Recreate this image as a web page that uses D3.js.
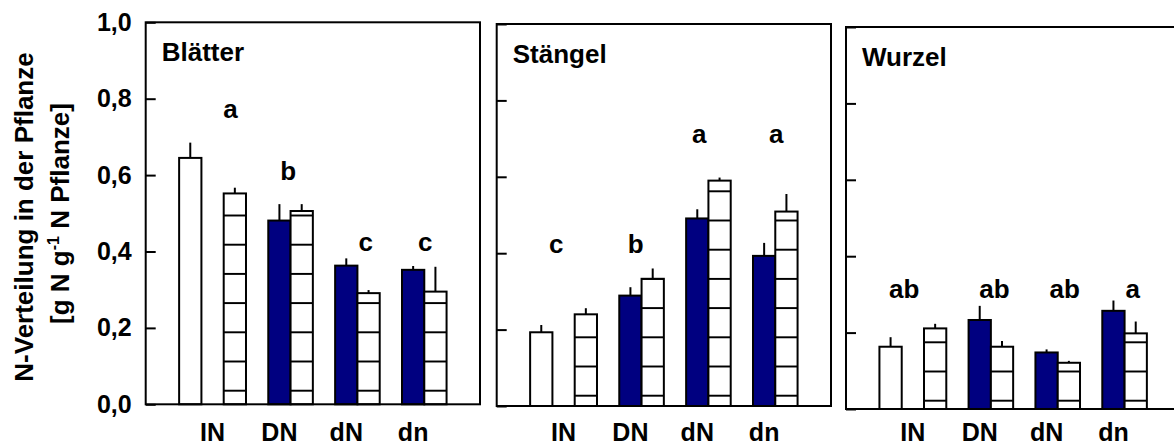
<!DOCTYPE html>
<html>
<head>
<meta charset="utf-8">
<script src="https://cdn.jsdelivr.net/npm/d3@7"></script>
<style>
  html, body { margin: 0; padding: 0; background: #fff; }
  svg { display: block; font-family: "Liberation Sans", Arial, Helvetica, sans-serif; font-weight: bold; }
</style>
</head>
<body>
<svg id="chart" width="1174" height="447"></svg>
<script>
// Treatments on the x axis and organ panels
const categories = ["IN", "DN", "dN", "dn"];
const panelTitles = ["Blätter", "Stängel", "Wurzel"];
const seriesKeys = ["open", "filled", "striped"];

// y axis ticks
const yTicks = [0, 0.2, 0.4, 0.6, 0.8, 1.0];
const yTickLabels = ["0,0", "0,2", "0,4", "0,6", "0,8", "1,0"];

// Blätter: N share (g N g-1 N plant) and standard errors
const leafOpen = [0.645, null, null, null];
const leafOpenErr = [0.040, null, null, null];
const leafFilled = [null, 0.481, 0.363, 0.352];
const leafFilledErr = [null, 0.043, 0.019, 0.010];
const leafStriped = [0.552, 0.506, 0.291, 0.295];
const leafStripedErr = [0.015, 0.018, 0.008, 0.065];
const leafLetters = ["a", "b", "c", "c"];

// Stängel
const stemOpen = [0.193, null, null, null];
const stemOpenErr = [0.019, null, null, null];
const stemFilled = [null, 0.289, 0.491, 0.393];
const stemFilledErr = [null, 0.022, 0.024, 0.034];
const stemStriped = [0.240, 0.333, 0.590, 0.509];
const stemStripedErr = [0.016, 0.027, 0.008, 0.046];
const stemLetters = ["c", "b", "a", "a"];

// Wurzel
const rootOpen = [0.163, null, null, null];
const rootOpenErr = [0.025, null, null, null];
const rootFilled = [null, 0.233, 0.148, 0.257];
const rootFilledErr = [null, 0.037, 0.008, 0.027];
const rootStriped = [0.211, 0.163, 0.121, 0.198];
const rootStripedErr = [0.012, 0.015, 0.005, 0.031];
const rootLetters = ["ab", "ab", "ab", "a"];

// Where the significance letters sit: fraction across the group, and height in axis units
const letterAnchors = [
  { fx: [0.77, 0.63, 0.79, 0.68], level: [0.749, 0.587, 0.40, 0.40] },
  { fx: [0.39, 0.58, 0.53, 0.68], level: [0.40, 0.40, 0.688, 0.688] },
  { fx: [0.37, 0.72, 0.77, 0.79], level: [0.291, 0.291, 0.291, 0.291] }
];

const panels = [
  { title: panelTitles[0], letters: leafLetters,
    series: { open: [leafOpen, leafOpenErr], filled: [leafFilled, leafFilledErr], striped: [leafStriped, leafStripedErr] } },
  { title: panelTitles[1], letters: stemLetters,
    series: { open: [stemOpen, stemOpenErr], filled: [stemFilled, stemFilledErr], striped: [stemStriped, stemStripedErr] } },
  { title: panelTitles[2], letters: rootLetters,
    series: { open: [rootOpen, rootOpenErr], filled: [rootFilled, rootFilledErr], striped: [rootStriped, rootStripedErr] } }
];

// Layout
const panelLeft = [145.7, 496.7, 846];
const panelTop = [22.3, 24, 27];
const W = 334.3, H = 382;
const labelBaseline = 441;          // common baseline of the category labels
const stripeGap = 29.2;
const stripeFromBottom = [13.6, 10.3, 8.3];
const ink = "#000";
const fills = { open: "#fff", filled: "#000080" };
const FS = 25;

const svg = d3.select("#chart");
const defs = svg.append("defs");

const y = d3.scaleLinear().domain([0, 1]).range([H, 0]);
const x0 = d3.scaleBand().domain(categories).range([0, W]).paddingInner(0).paddingOuter(0.5);
const x1 = d3.scaleBand().domain(seriesKeys).range([0, x0.bandwidth()]).padding(0);

panels.forEach((p, i) => {
  // horizontal stripe fill for the third series
  const pid = "stripes" + i;
  const pat = defs.append("pattern")
    .attr("id", pid)
    .attr("patternUnits", "userSpaceOnUse")
    .attr("width", 20).attr("height", stripeGap)
    .attr("patternTransform", `translate(0,${H - stripeFromBottom[i] - stripeGap / 2})`);
  pat.append("rect").attr("width", 20).attr("height", stripeGap).attr("fill", "#fff");
  pat.append("line").attr("x1", 0).attr("x2", 20)
    .attr("y1", stripeGap / 2).attr("y2", stripeGap / 2)
    .attr("stroke", ink).attr("stroke-width", 2);

  const g = svg.append("g").attr("transform", `translate(${panelLeft[i]},${panelTop[i]})`);

  // bars
  const rows = [];
  categories.forEach((c, j) => {
    seriesKeys.forEach(k => {
      const v = p.series[k][0][j];
      if (v != null) rows.push({ c, k, v, e: p.series[k][1][j] });
    });
  });

  g.selectAll("rect.bar").data(rows).join("rect")
    .attr("class", "bar")
    .attr("x", d => x0(d.c) + x1(d.k))
    .attr("y", d => y(d.v))
    .attr("width", x1.bandwidth())
    .attr("height", d => H - y(d.v))
    .attr("fill", d => d.k === "striped" ? `url(#${pid})` : fills[d.k])
    .attr("stroke", ink).attr("stroke-width", 2);

  // error bars (upper only)
  g.selectAll("line.err").data(rows).join("line")
    .attr("class", "err")
    .attr("x1", d => x0(d.c) + x1(d.k) + x1.bandwidth() / 2)
    .attr("x2", d => x0(d.c) + x1(d.k) + x1.bandwidth() / 2)
    .attr("y1", d => y(d.v))
    .attr("y2", d => y(d.v + d.e))
    .attr("stroke", ink).attr("stroke-width", 2);

  // y axis ticks pointing inward; labels only on the first panel
  const yAxis = d3.axisLeft(y).tickValues(yTicks).tickSizeInner(-10).tickSizeOuter(0).tickPadding(14)
    .tickFormat((d, idx) => i === 0 ? yTickLabels[idx] : "");
  const ya = g.append("g").call(yAxis);
  ya.select(".domain").remove();
  ya.selectAll("line").attr("stroke", ink).attr("stroke-width", 2);
  ya.selectAll("text").attr("font-size", FS).attr("font-family", null).attr("fill", ink);

  // x axis category labels
  const xAxis = d3.axisBottom(x0).tickSizeInner(0).tickSizeOuter(0).tickPadding(0);
  const xa = g.append("g").attr("transform", `translate(0,${H})`).call(xAxis);
  xa.select(".domain").remove();
  xa.selectAll("line").remove();
  xa.selectAll("text")
    .attr("font-size", FS).attr("font-family", null).attr("fill", ink)
    .attr("dy", null)
    .attr("y", labelBaseline - panelTop[i] - H);

  // frame
  g.append("rect").attr("x", 0).attr("y", 0).attr("width", W).attr("height", H)
    .attr("fill", "none").attr("stroke", ink).attr("stroke-width", 2);

  // panel title
  g.append("text").attr("x", 16).attr("y", 39).attr("font-size", 26).attr("fill", ink).text(p.title);

  // significance letters
  g.selectAll("text.sig").data(p.letters).join("text")
    .attr("class", "sig")
    .attr("x", (d, j) => x0(categories[j]) + letterAnchors[i].fx[j] * x0.step())
    .attr("y", (d, j) => y(letterAnchors[i].level[j]))
    .attr("text-anchor", "middle")
    .attr("font-size", 26).attr("fill", ink)
    .text(d => d);
});

// y axis title, two rotated lines
const yTitle = svg.append("g").attr("font-size", 26).attr("fill", ink);
yTitle.append("text")
  .attr("transform", "translate(32.5,217) rotate(-90)")
  .attr("text-anchor", "middle")
  .text("N-Verteilung in der Pflanze");
const t2 = yTitle.append("text")
  .attr("transform", "translate(68.5,213.5) rotate(-90)")
  .attr("text-anchor", "middle");
t2.append("tspan").text("[g N g");
t2.append("tspan").attr("font-size", 16).attr("dy", -10).text("-1");
t2.append("tspan").attr("dy", 10).text(" N Pflanze]");
</script>
</body>
</html>
